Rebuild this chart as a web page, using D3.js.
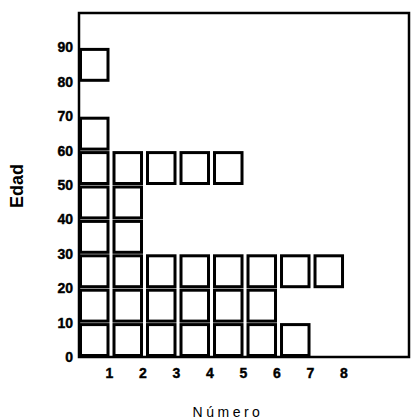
<!DOCTYPE html>
<html lang="es">
<head>
  <meta charset="utf-8" />
  <title>Edad por número</title>
  <script src="https://d3js.org/d3.v7.min.js"></script>
  <style>
    body { margin: 0; background: #fff; }
    .tick-label { font-family: "Liberation Sans Narrow", "Liberation Sans", Arial, sans-serif; font-weight: bold; font-size: 14px; fill: #000; stroke: #000; stroke-width: 0.4px; }
  </style>
</head>
<body>
<svg width="412" height="420"></svg>
<script>
// age groups (start of each decade) and how many squares each one has
var decadas = [0, 10, 20, 30, 40, 50, 60, 70, 80];
var cuenta = [7, 6, 8, 2, 2, 5, 1, 0, 1];

// tick labels
var xTicks = [1, 2, 3, 4, 5, 6, 7, 8];
var yTicks = [0, 10, 20, 30, 40, 50, 60, 70, 80, 90];

var svg = d3.select("svg");

// plot frame 79..409 x 13..357
var x = d3.scaleLinear().domain([0, 9.85]).range([79, 409]);
var y = d3.scaleLinear().domain([0, 100]).range([357, 13]);

// one square per person: column = number, row = decade
var celdas = [];
decadas.forEach(function (d, i) {
  for (var n = 1; n <= cuenta[i]; n++) celdas.push({ n: n, d: d });
});

svg.append("g")
  .selectAll("rect")
  .data(celdas)
  .enter()
  .append("rect")
  .attr("x", function (c) { return x(c.n - 1) + 1.5; })
  .attr("y", function (c) { return y(c.d + 10) + 2; })
  .attr("width", function (c) { return x(c.n) - x(c.n - 1) - 6; })
  .attr("height", function (c) { return y(c.d) - y(c.d + 10) - 3.5; })
  .attr("fill", "#fff")
  .attr("stroke", "#000")
  .attr("stroke-width", 3);

// frame
svg.append("rect")
  .attr("x", x(0))
  .attr("y", y(100))
  .attr("width", x.range()[1] - x(0))
  .attr("height", y(0) - y(100))
  .attr("fill", "none")
  .attr("stroke", "#000")
  .attr("stroke-width", 2.5);

// y tick labels
svg.append("g")
  .selectAll("text")
  .data(yTicks)
  .enter()
  .append("text")
  .attr("class", "tick-label")
  .attr("x", 73)
  .attr("y", function (v) { return y(v) + 5; })
  .attr("text-anchor", "end")
  .text(function (v) { return v; });

// x tick labels
svg.append("g")
  .selectAll("text")
  .data(xTicks)
  .enter()
  .append("text")
  .attr("class", "tick-label")
  .attr("x", function (v) { return x(v) - 3; })
  .attr("y", 378)
  .attr("text-anchor", "middle")
  .text(function (v) { return v; });

// axis titles
svg.append("text")
  .attr("transform", "translate(23,186) rotate(-90)")
  .attr("text-anchor", "middle")
  .attr("font-family", "'Liberation Sans Narrow', 'Liberation Sans', Arial, sans-serif")
  .attr("font-weight", "bold")
  .attr("font-size", 18)
  .text("Edad");

svg.append("text")
  .attr("x", 228)
  .attr("y", 417)
  .attr("text-anchor", "middle")
  .attr("font-family", "'Liberation Sans', Arial, sans-serif")
  .attr("font-size", 14)
  .attr("letter-spacing", 3.5)
  .text("Número");
</script>
</body>
</html>
